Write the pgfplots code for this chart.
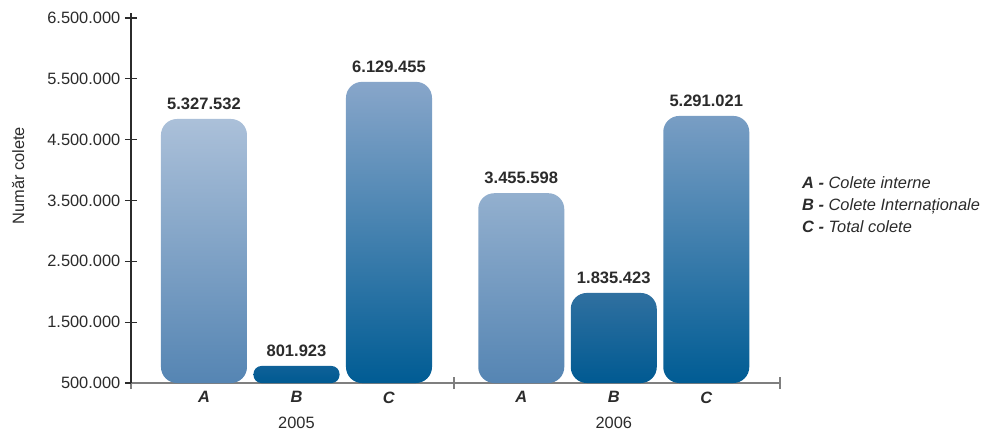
\documentclass[border=0pt]{standalone}
\usepackage{pgfplots}
\pgfplotsset{compat=1.18}
\usepackage{pgfplotstable}
\usepackage{fontspec}
\setmainfont{Liberation Sans}

\definecolor{txt}{HTML}{2B2B2B}
\definecolor{axisgray}{HTML}{7F7F7F}
\definecolor{aTop}{HTML}{ABC0D9}
\definecolor{aBot}{HTML}{5585B3}
\definecolor{cTop}{HTML}{88A6CA}
\definecolor{cBot}{HTML}{005C94}
\definecolor{bTopA}{HTML}{0F6198}
\definecolor{bTopB}{HTML}{3070A0}
\definecolor{bBot}{HTML}{005A92}

% bar tops as drawn, and the printed values
\pgfplotstableread{
x     y        lbl
1     4840000  5.327.532
4.43  3620000  3.455.598
}\barsA
\pgfplotstableread{
x     y        lbl
3     5450000  6.129.455
6.43  4890000  5.291.021
}\barsC
\pgfplotstableread{
x     y        lbl
2     780000   801.923
}\barsBa
\pgfplotstableread{
x     y        lbl
5.43  1980000  1.835.423
}\barsBb

\pgfplotsset{
  colbar/.style={ybar, bar width=0.93, bar shift=0pt, draw=none,
    nodes near coords, point meta=explicit symbolic,
    nodes near coords style={font=\fontsize{12.4}{14.8}\selectfont\bfseries,
      text=txt, anchor=south, yshift=3.5pt}},
}

\begin{document}
\begin{tikzpicture}[font=\fontsize{12.3}{14.8}\selectfont]
\begin{axis}[
  name=ax,
  scale only axis, width=486.75pt, height=277.5pt,
  xmin=0.211, xmax=7.227,
  ymin=0, ymax=6082192,
  y filter/.expression={y-500000},
  clip=false,
  axis lines*=left,
  x axis line style={axisgray, line width=0.8pt},
  y axis line style={txt, line width=0.8pt},
  xtick style={axisgray, line width=0.8pt},
  ytick style={txt, line width=0.8pt},
  major tick length=9pt, tick align=center,
  xtick={0.211,3.703,7.227}, xticklabels={,,},
  extra x ticks={1,2,3,4.43,5.43,6.43},
  extra x tick labels={\textbf{\textit{A}}, {\textbf{\textit{B}}\\[4.2pt]2005}, \textbf{\textit{C}},
    \textbf{\textit{A}}, {\textbf{\textit{B}}\\[4.2pt]2006}, \textbf{\textit{C}}},
  extra x tick style={major tick length=0pt,
    xticklabel style={align=center, anchor=north, yshift=-3pt}},
  ytick={0,1000000,2000000,3000000,4000000,5000000,6000000},
  yticklabels={500.000,1.500.000,2.500.000,3.500.000,4.500.000,5.500.000,6.500.000},
  scaled y ticks=false,
  ticklabel style={text=txt},
  ylabel={Număr colete},
  ylabel style={at={(rel axis cs:-0.174,0.56)}, anchor=center, text=txt},
]
\addplot[colbar, top color=aTop, bottom color=aBot, rounded corners=12pt]
  table[x=x, y=y, meta=lbl] {\barsA};
\addplot[colbar, top color=cTop, bottom color=cBot, rounded corners=12pt]
  table[x=x, y=y, meta=lbl] {\barsC};
\addplot[colbar, top color=bTopA, bottom color=bBot, rounded corners=6pt]
  table[x=x, y=y, meta=lbl] {\barsBa};
\addplot[colbar, top color=bTopB, bottom color=bBot, rounded corners=12pt]
  table[x=x, y=y, meta=lbl] {\barsBb};

\node[anchor=west, align=left, font=\fontsize{12.3}{16.2}\selectfont, text=txt]
  at (rel axis cs:1.027,0.482)
  {\textbf{\textit{A -}} \textit{Colete interne}\\
   \textbf{\textit{B -}} \textit{Colete Internaționale}\\
   \textbf{\textit{C -}} \textit{Total colete}};
\end{axis}
\pgfresetboundingbox
\path[use as bounding box] ([shift={(-98.25pt,-37.5pt)}]ax.south west) rectangle ++(736.5pt,324.75pt);
\end{tikzpicture}
\end{document}
